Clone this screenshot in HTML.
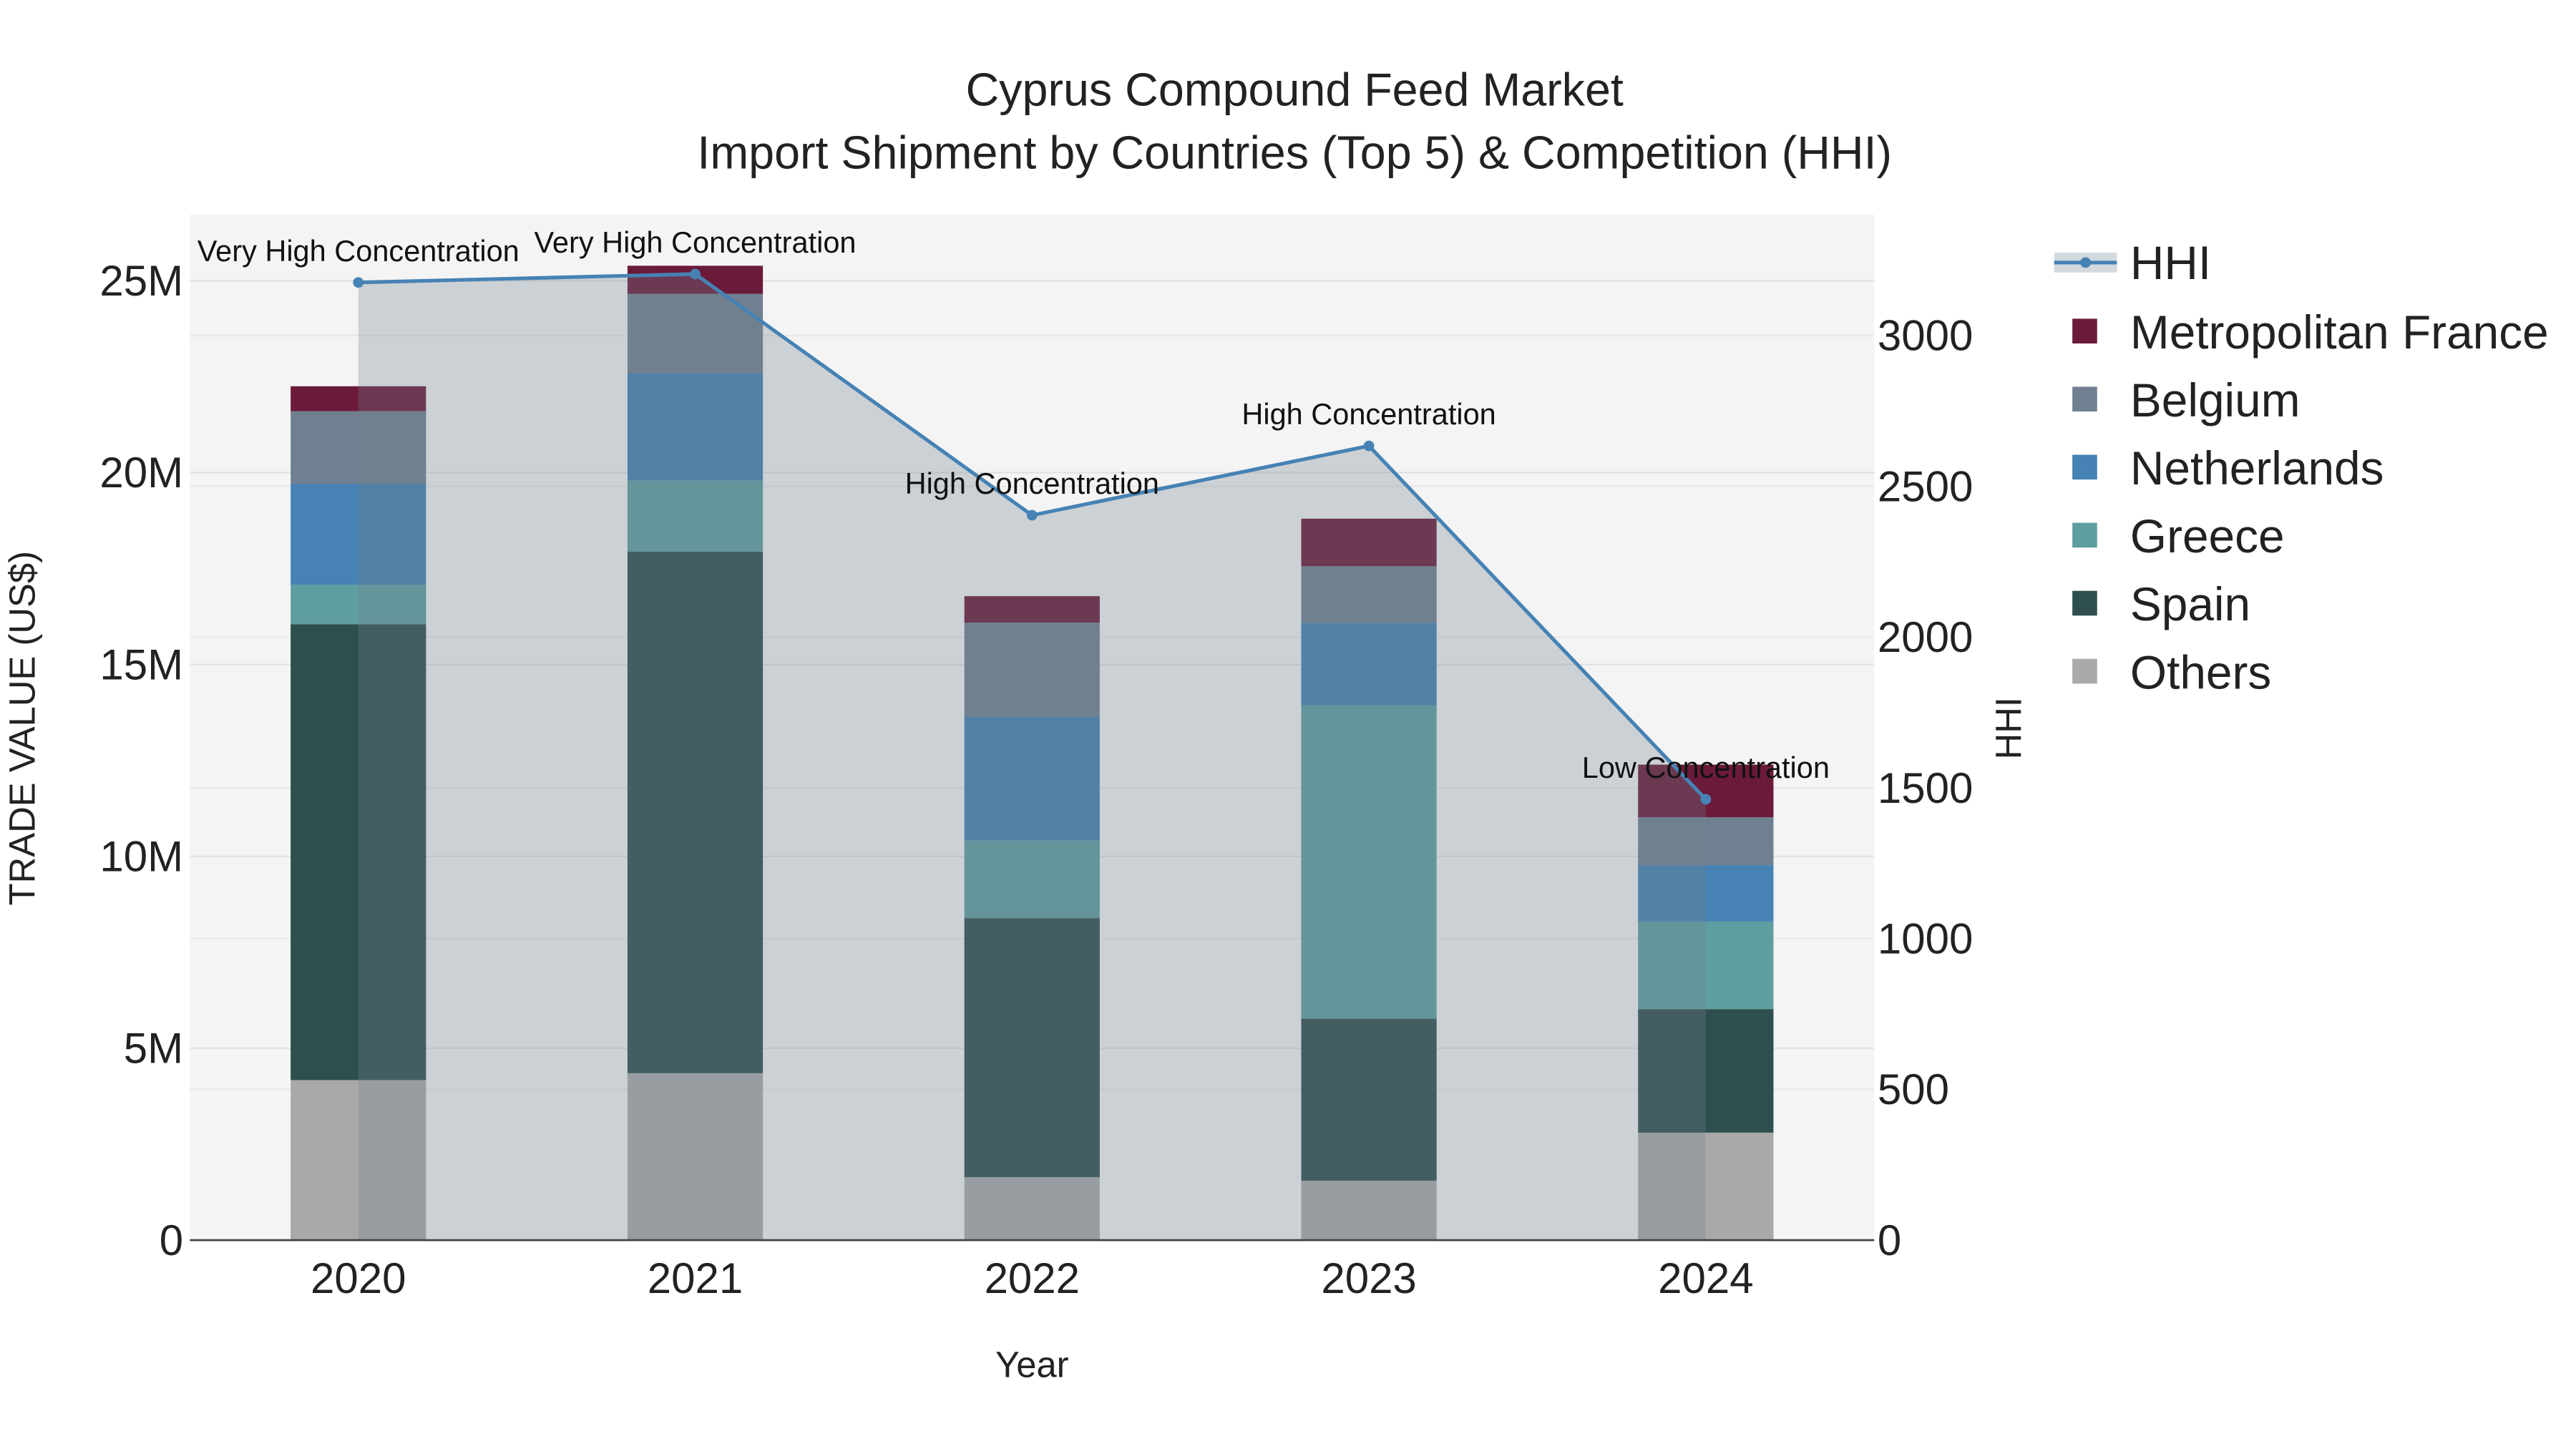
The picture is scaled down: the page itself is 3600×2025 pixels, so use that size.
<!DOCTYPE html>
<html><head><meta charset="utf-8"><style>
html,body{margin:0;padding:0;background:#fff;}
svg{display:block;font-family:"Liberation Sans",sans-serif;}
</style></head><body>
<svg id="chart" width="3600" height="2025" viewBox="0 0 1560 877.5" xmlns="http://www.w3.org/2000/svg">
<rect x="115" y="130" width="1020" height="621" fill="#f4f4f4"/>
<g id="grid"></g>
<g id="bars"></g>
<g id="hhi"></g>
<g id="axes"></g>
<text x="784" y="64" text-anchor="middle" font-size="28" fill="#222">Cyprus Compound Feed Market</text>
<text x="784" y="102" text-anchor="middle" font-size="28" fill="#222">Import Shipment by Countries (Top 5) &amp; Competition (HHI)</text>
<text x="625" y="834" text-anchor="middle" font-size="22" fill="#222">Year</text>
<text transform="translate(21,441) rotate(-90)" text-anchor="middle" font-size="22" fill="#222">TRADE VALUE (US$)</text>
<text transform="translate(1224,441) rotate(-90)" text-anchor="middle" font-size="22" fill="#222">HHI</text>
<g id="legend"></g>
</svg>
<script>
const years = ['2020','2021','2022','2023','2024'];
const seriesNames = ['Others','Spain','Greece','Netherlands','Belgium','Metropolitan France'];
const others = [4.17, 4.35, 1.64, 1.55, 2.80];
const spain = [11.88, 13.59, 6.75, 4.22, 3.22];
const greece = [1.03, 1.85, 2.02, 8.17, 2.28];
const netherlands = [2.63, 2.80, 3.23, 2.15, 1.47];
const belgium = [1.89, 2.07, 2.45, 1.47, 1.25];
const france = [0.65, 0.73, 0.69, 1.24, 1.37];
const hhi = [3176, 3204, 2404, 2634, 1462];
const hhiLabels = ['Very High Concentration','Very High Concentration','High Concentration','High Concentration','Low Concentration'];
const yTicks = [0,5,10,15,20,25];
const y2Ticks = [0,500,1000,1500,2000,2500,3000];
const colors = ['#a9a9a9','#2f4f4f','#5f9ea0','#4682b4','#708090','#6b1a3a'];

const NS='http://www.w3.org/2000/svg';
const X0=115,X1=1135,Y0=751;
const xC = i => 217 + i*204;
const yL = v => Y0 - v*116.2/5;
const yR = v => Y0 - v*91.3/500;
function mk(tag, attrs, parent){const e=document.createElementNS(NS,tag);for(const k in attrs)e.setAttribute(k,attrs[k]);parent.appendChild(e);return e;}
const grid=document.getElementById('grid'),bars=document.getElementById('bars'),hg=document.getElementById('hhi'),axes=document.getElementById('axes'),leg=document.getElementById('legend');

yTicks.forEach(t=>{ if(t>0){const l=mk('line',{x1:X0,x2:X1,y1:yL(t),y2:yL(t),stroke:'#e2e2e2','stroke-width':1},grid);

}
const tx=mk('text',{x:111,y:yL(t)+9,'text-anchor':'end','font-size':26,fill:'#222'},axes);tx.textContent=t===0?'0':t+'M';

});
y2Ticks.forEach(t=>{ if(t>0){const l=mk('line',{x1:X0,x2:X1,y1:yR(t),y2:yR(t),stroke:'#e8e8e8','stroke-width':1},grid);

}
const tx=mk('text',{x:1137,y:yR(t)+9,'font-size':26,fill:'#222'},axes);tx.textContent=t;

});

const stack=[others,spain,greece,netherlands,belgium,france];
years.forEach((yr,i)=>{let base=0;
 stack.forEach((s,k)=>{const r=mk('rect',{x:xC(i)-41,width:82,y:yL(base+s[i]),height:yL(base)-yL(base+s[i]),fill:colors[k]},bars);
 
 
 base+=s[i];});
 const tx=mk('text',{x:xC(i),y:783,'text-anchor':'middle','font-size':26,fill:'#222'},axes);tx.textContent=yr;
 
 });

let pts=hhi.map((v,i)=>xC(i)+','+yR(v)).join(' ');
const area=mk('polygon',{points:xC(0)+','+Y0+' '+pts+' '+xC(hhi.length-1)+','+Y0,fill:'rgba(112,128,144,0.3)'},hg);


const line=mk('polyline',{points:pts,fill:'none',stroke:'#4682b4','stroke-width':2.2},hg);


hhi.forEach((v,i)=>{const c=mk('circle',{cx:xC(i),cy:yR(v),r:3.2,fill:'#4682b4'},hg);


const t=mk('text',{x:xC(i),y:yR(v)-13,'text-anchor':'middle','font-size':18,fill:'#111'},hg);t.textContent=hhiLabels[i];

});

const al=mk('line',{x1:X0,x2:X1,y1:Y0,y2:Y0,stroke:'#444','stroke-width':1.2},axes);



// legend
const lr=mk('rect',{x:1244,y:153,width:38,height:12,fill:'rgba(112,128,144,0.3)'},leg);


const ll=mk('line',{x1:1244,x2:1282,y1:159,y2:159,stroke:'#4682b4','stroke-width':2.2},leg);


const lc=mk('circle',{cx:1263,cy:159,r:3.2,fill:'#4682b4'},leg);


const lt=mk('text',{x:1290,y:169,'font-size':28.5,fill:'#222'},leg);lt.textContent='HHI';


const legOrder=[5,4,3,2,1,0];
legOrder.forEach((k,j)=>{const y=201+j*41.2;
 const r=mk('rect',{x:1255,y:y-8,width:15,height:15,fill:colors[k]},leg);
 
 
 const t=mk('text',{x:1290,y:y+10,'font-size':28.5,fill:'#222'},leg);t.textContent=seriesNames[k];
 
 });
</script>
</body></html>
